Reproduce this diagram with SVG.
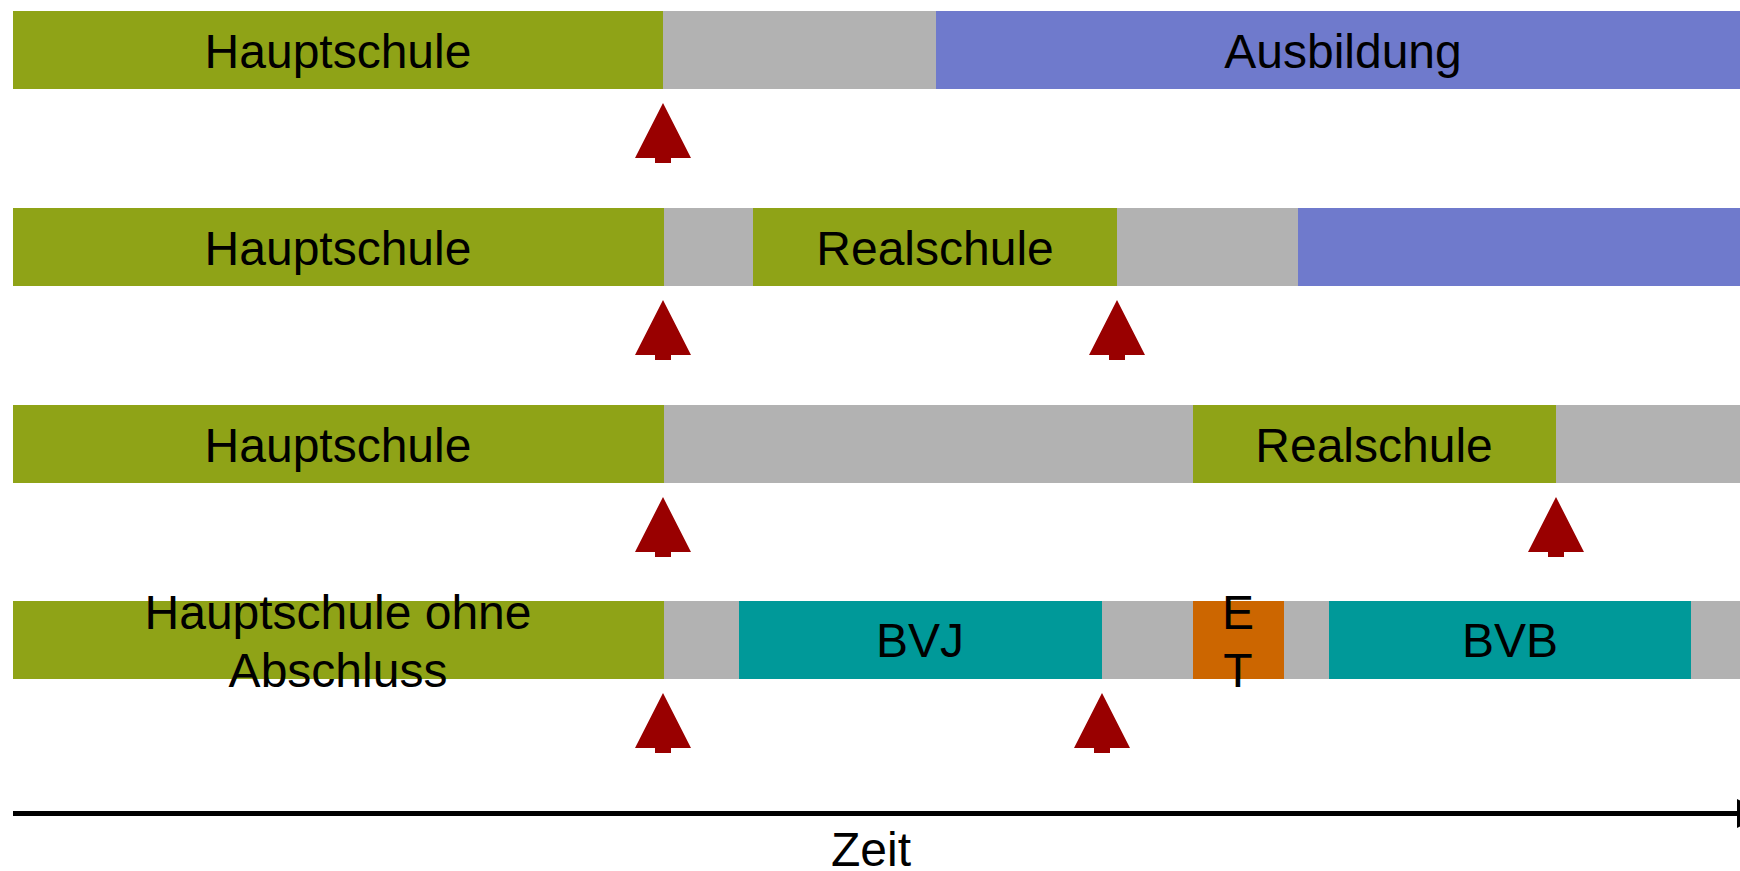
<svg xmlns="http://www.w3.org/2000/svg" width="1740" height="871" viewBox="0 0 1740 871">
<style>
.g{fill:#8FA317}.n{fill:#B2B2B2}.b{fill:#6F7ACC}.t{fill:#009999}.o{fill:#CC6600}
text{font-family:"Liberation Sans",Arial,sans-serif;font-size:48px;fill:#000;text-anchor:middle}
.ar{fill:#990000}
</style>
<defs>
<polygon id="arrow" class="ar" points="0,0 28,55 8,55 8,60 -8,60 -8,55 -28,55"/>
</defs>
<g id="row1">
<rect class="g" x="13" y="11" width="650" height="78"/>
<rect class="n" x="663" y="11" width="273" height="78"/>
<rect class="b" x="936" y="11" width="804" height="78"/>
<text x="338" y="68">Hauptschule</text>
<text x="1343" y="68">Ausbildung</text>
</g>
<g id="row2">
<rect class="g" x="13" y="208" width="651" height="78"/>
<rect class="n" x="664" y="208" width="89" height="78"/>
<rect class="g" x="753" y="208" width="364" height="78"/>
<rect class="n" x="1117" y="208" width="181" height="78"/>
<rect class="b" x="1298" y="208" width="442" height="78"/>
<text x="338" y="265">Hauptschule</text>
<text x="935" y="265">Realschule</text>
</g>
<g id="row3">
<rect class="g" x="13" y="405" width="651" height="78"/>
<rect class="n" x="664" y="405" width="529" height="78"/>
<rect class="g" x="1193" y="405" width="363" height="78"/>
<rect class="n" x="1556" y="405" width="184" height="78"/>
<text x="338" y="462">Hauptschule</text>
<text x="1374" y="462">Realschule</text>
</g>
<g id="row4">
<rect class="g" x="13" y="601" width="651" height="78"/>
<rect class="n" x="664" y="601" width="75" height="78"/>
<rect class="t" x="739" y="601" width="363" height="78"/>
<rect class="n" x="1102" y="601" width="91" height="78"/>
<rect class="o" x="1193" y="601" width="91" height="78"/>
<rect class="n" x="1284" y="601" width="45" height="78"/>
<rect class="t" x="1329" y="601" width="362" height="78"/>
<rect class="n" x="1691" y="601" width="49" height="78"/>
<text x="338" y="629">Hauptschule ohne</text>
<text x="338" y="687">Abschluss</text>
<text x="920" y="657">BVJ</text>
<text x="1238" y="629">E</text>
<text x="1238" y="687">T</text>
<text x="1510" y="657">BVB</text>
</g>
<g id="connectors">
<use href="#arrow" x="663" y="103"/>
<use href="#arrow" x="663" y="300"/>
<use href="#arrow" x="1117" y="300"/>
<use href="#arrow" x="663" y="497"/>
<use href="#arrow" x="1556" y="497"/>
<use href="#arrow" x="663" y="693"/>
<use href="#arrow" x="1102" y="693"/>
</g>
<g id="axis">
<line x1="13" y1="813.5" x2="1737" y2="813.5" stroke="#000" stroke-width="5"/>
<polygon points="1737,799 1765,813.5 1737,828" fill="#000"/>
<text x="871" y="866">Zeit</text>
</g>
</svg>
